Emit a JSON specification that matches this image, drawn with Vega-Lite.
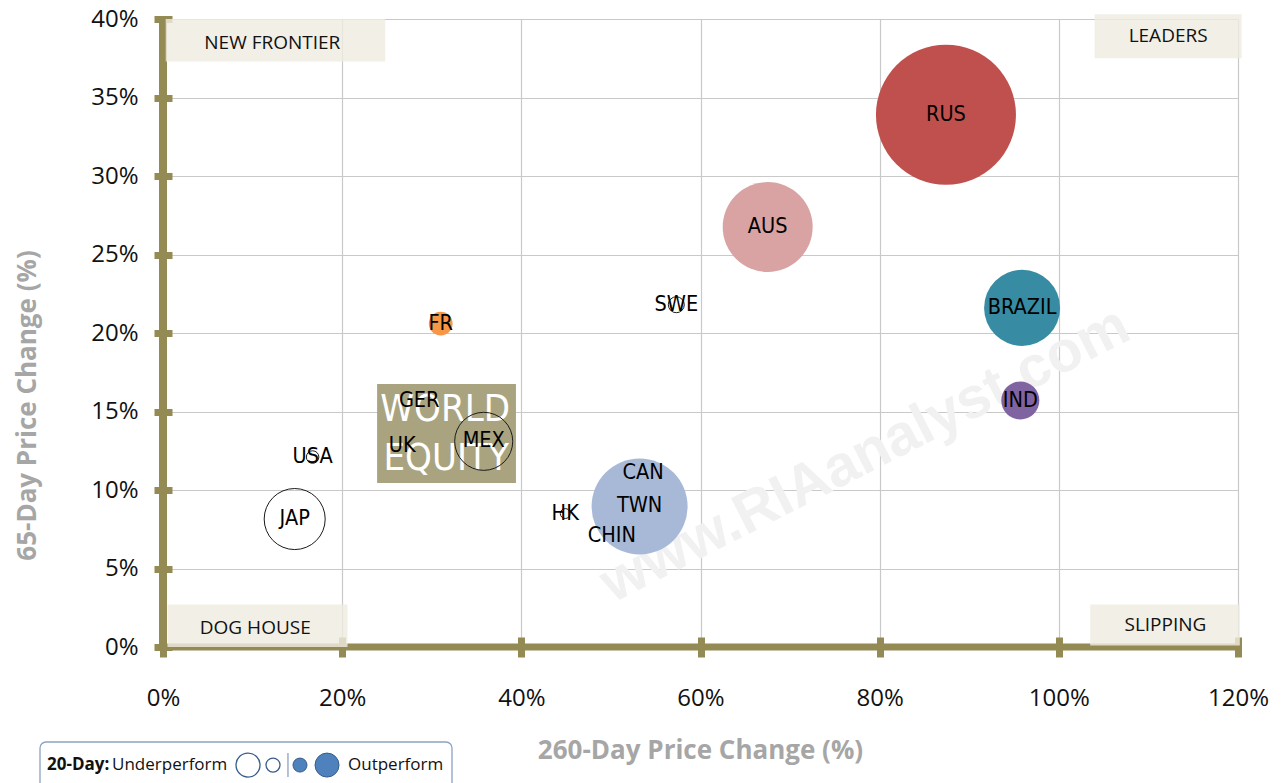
{
  "$schema": "https://vega.github.io/schema/vega-lite/v6.json",
  "width": 1075,
  "height": 628,
  "autosize": {"type": "none"},
  "padding": {"left": 163, "top": 19, "right": 47, "bottom": 136},
  "background": "white",
  "config": {"view": {"stroke": null}, "font": "Open Sans"},
  "data": {"values": [{}]},
  "datasets": {
    "countries": [
      {"name": "RUS", "chg260": 87.4, "chg65": 33.9, "mag20": 100, "perf": "out"},
      {"name": "AUS", "chg260": 67.5, "chg65": 26.75, "mag20": 41.3, "perf": "out"},
      {"name": "BRAZIL", "chg260": 95.9, "chg65": 21.6, "mag20": 29.5, "perf": "out"},
      {"name": "IND", "chg260": 95.7, "chg65": 15.7, "mag20": 7.4, "perf": "out"},
      {"name": "TWN", "chg260": 53.2, "chg65": 8.95, "mag20": 47, "perf": "out"},
      {"name": "CAN", "chg260": 53.6, "chg65": 11.1, "mag20": 0, "perf": "out"},
      {"name": "CHIN", "chg260": 50.1, "chg65": 7.1, "mag20": 0, "perf": "out"},
      {"name": "FR", "chg260": 31.0, "chg65": 20.6, "mag20": 2.9, "perf": "out"},
      {"name": "GER", "chg260": 28.6, "chg65": 15.7, "mag20": 0, "perf": "out"},
      {"name": "UK", "chg260": 26.7, "chg65": 12.8, "mag20": 0, "perf": "out"},
      {"name": "SWE", "chg260": 57.3, "chg65": 21.8, "mag20": 1.3, "perf": "under"},
      {"name": "HK", "chg260": 44.9, "chg65": 8.5, "mag20": 0.5, "perf": "under"},
      {"name": "USA", "chg260": 16.7, "chg65": 12.1, "mag20": 0.8, "perf": "under"},
      {"name": "JAP", "chg260": 14.7, "chg65": 8.15, "mag20": 19, "perf": "under"},
      {"name": "MEX", "chg260": 35.8, "chg65": 13.1, "mag20": 17.2, "perf": "under"}
    ],
    "quadrants": [
      {"q": "NEW FRONTIER", "x1": 0.3, "x2": 24.8, "y1": 37.3, "y2": 40.0, "cx": 12.2, "cy": 38.5},
      {"q": "LEADERS", "x1": 104.0, "x2": 120.4, "y1": 37.5, "y2": 40.3, "cx": 112.2, "cy": 38.9},
      {"q": "DOG HOUSE", "x1": 0.5, "x2": 20.6, "y1": 0.0, "y2": 2.7, "cx": 10.3, "cy": 1.2},
      {"q": "SLIPPING", "x1": 103.5, "x2": 120.2, "y1": 0.1, "y2": 2.7, "cx": 111.9, "cy": 1.4}
    ]
  },
  "layer": [
    {
      "data": {"name": "countries"},
      "transform": [{"filter": "datum.perf === 'none'"}],
      "mark": {"type": "circle", "opacity": 0},
      "encoding": {
        "x": {
          "field": "chg260", "type": "quantitative",
          "scale": {"domain": [0, 120], "nice": false},
          "axis": {
            "values": [0, 20, 40, 60, 80, 100, 120],
            "labelExpr": "datum.value + '%'",
            "labelFlush": false,
            "domain": false,
            "offset": -10,
            "tickSize": 20,
            "tickWidth": 7,
            "tickColor": "#948A54",
            "labelPadding": 29,
            "labelFont": "Open Sans",
            "labelFontSize": 24,
            "labelColor": "#111111",
            "grid": true,
            "gridColor": "#C9C9C9",
            "gridWidth": 1.2,
            "title": "260-Day Price Change (%)",
            "titleFont": "Open Sans",
            "titleFontSize": 26,
            "titleFontWeight": "bold",
            "titleColor": "#A6A6A6",
            "titleX": 537,
            "titleY": 113,
            "titleBaseline": "middle",
            "titleAnchor": "middle"
          }
        },
        "y": {
          "field": "chg65", "type": "quantitative",
          "scale": {"domain": [0, 40], "nice": false},
          "axis": {
            "values": [0, 5, 10, 15, 20, 25, 30, 35, 40],
            "labelExpr": "datum.value + '%'",
            "labelFlush": false,
            "domain": false,
            "offset": -9,
            "tickSize": 18,
            "tickWidth": 7,
            "tickColor": "#948A54",
            "labelPadding": 16,
            "labelFont": "Open Sans",
            "labelFontSize": 24,
            "labelColor": "#111111",
            "grid": true,
            "gridColor": "#C9C9C9",
            "gridWidth": 1.2,
            "title": "65-Day Price Change (%)",
            "titleFont": "Open Sans",
            "titleFontSize": 26,
            "titleFontWeight": "bold",
            "titleColor": "#A6A6A6",
            "titleX": -145,
            "titleY": 386,
            "titleAngle": 270,
            "titleBaseline": "middle",
            "titleAnchor": "middle"
          }
        }
      }
    },
    {
      "mark": {"type": "text", "font": "Liberation Sans", "fontWeight": "bold", "fontSize": 58, "angle": -27, "fill": "#F1F1F1"},
      "encoding": {
        "x": {"datum": 78.4, "type": "quantitative"},
        "y": {"datum": 12.2, "type": "quantitative"},
        "text": {"value": "www.RIAanalyst.com"}
      }
    },
    {
      "mark": {"type": "rule", "stroke": "#948A54", "strokeWidth": 8},
      "encoding": {
        "x": {"datum": 0, "type": "quantitative"},
        "y": {"datum": 0, "type": "quantitative"},
        "y2": {"datum": 40}
      }
    },
    {
      "mark": {"type": "rule", "stroke": "#948A54", "strokeWidth": 7, "strokeCap": "square"},
      "encoding": {
        "x": {"datum": 0, "type": "quantitative"},
        "x2": {"datum": 120},
        "y": {"datum": 0, "type": "quantitative"}
      }
    },
    {
      "data": {"name": "quadrants"},
      "mark": {"type": "rect", "fill": "#EEECE1", "opacity": 0.82},
      "encoding": {
        "x": {"field": "x1", "type": "quantitative"},
        "x2": {"field": "x2"},
        "y": {"field": "y1", "type": "quantitative"},
        "y2": {"field": "y2"}
      }
    },
    {
      "data": {"name": "quadrants"},
      "mark": {"type": "text", "font": "Open Sans", "fontSize": 19, "fill": "#111111", "baseline": "middle"},
      "encoding": {
        "x": {"field": "cx", "type": "quantitative"},
        "y": {"field": "cy", "type": "quantitative"},
        "text": {"field": "q"}
      }
    },
    {
      "mark": {"type": "rect", "fill": "#A9A47F"},
      "encoding": {
        "x": {"datum": 23.9, "type": "quantitative"},
        "x2": {"datum": 39.4},
        "y": {"datum": 10.45, "type": "quantitative"},
        "y2": {"datum": 16.75}
      }
    },
    {
      "mark": {"type": "text", "font": "DejaVu Sans Condensed, Liberation Sans", "fontSize": 38, "fill": "white", "baseline": "middle"},
      "encoding": {
        "x": {"datum": 31.5, "type": "quantitative"},
        "y": {"datum": 15.1, "type": "quantitative"},
        "text": {"value": "WORLD"}
      }
    },
    {
      "mark": {"type": "text", "font": "DejaVu Sans Condensed, Liberation Sans", "fontSize": 38, "fill": "white", "baseline": "middle"},
      "encoding": {
        "x": {"datum": 31.6, "type": "quantitative"},
        "y": {"datum": 12.0, "type": "quantitative"},
        "text": {"value": "EQUITY"}
      }
    },
    {
      "data": {"name": "countries"},
      "transform": [{"filter": "datum.perf === 'out'"}],
      "mark": {"type": "circle", "opacity": 1},
      "encoding": {
        "x": {"field": "chg260", "type": "quantitative"},
        "y": {"field": "chg65", "type": "quantitative"},
        "size": {"field": "mag20", "type": "quantitative", "scale": {"type": "linear", "domain": [0, 100], "range": [0, 19600]}, "legend": null},
        "color": {
          "field": "name", "type": "nominal", "legend": null,
          "scale": {
            "domain": ["RUS", "AUS", "BRAZIL", "IND", "TWN", "CAN", "CHIN", "FR", "GER", "UK"],
            "range": ["#C0504D", "#D9A3A3", "#378CA3", "#8064A2", "#A8B9D8", "#A8B9D8", "#A8B9D8", "#F79646", "#A9A47F", "#A9A47F"]
          }
        }
      }
    },
    {
      "data": {"name": "countries"},
      "transform": [{"filter": "datum.perf === 'under'"}],
      "mark": {"type": "point", "shape": "circle", "filled": false, "stroke": "#1A1A1A", "strokeWidth": 1, "opacity": 1},
      "encoding": {
        "x": {"field": "chg260", "type": "quantitative"},
        "y": {"field": "chg65", "type": "quantitative"},
        "size": {"field": "mag20", "type": "quantitative", "scale": {"type": "linear", "domain": [0, 100], "range": [0, 19600]}, "legend": null}
      }
    },
    {
      "data": {"name": "countries"},
      "mark": {"type": "text", "font": "DejaVu Sans Condensed, Liberation Sans", "fontSize": 21.5, "fill": "#000000", "baseline": "middle", "align": "center"},
      "encoding": {
        "x": {"field": "chg260", "type": "quantitative"},
        "y": {"field": "chg65", "type": "quantitative"},
        "text": {"field": "name"}
      }
    },
    {
      "mark": {"type": "rect", "fill": "white", "stroke": "#8DA2C4", "strokeWidth": 1.3, "cornerRadius": 6},
      "encoding": {
        "x": {"datum": -13.73, "type": "quantitative"},
        "x2": {"datum": 32.26},
        "y": {"datum": -6.05, "type": "quantitative"},
        "y2": {"datum": -9.6}
      }
    },
    {
      "mark": {"type": "text", "font": "Open Sans", "fontWeight": "bold", "fontSize": 17, "fill": "#111111", "align": "left", "baseline": "middle"},
      "encoding": {
        "x": {"datum": -12.95, "type": "quantitative"},
        "y": {"datum": -7.52, "type": "quantitative"},
        "text": {"value": "20-Day:"}
      }
    },
    {
      "mark": {"type": "text", "font": "Open Sans", "fontSize": 17, "fill": "#111111", "align": "left", "baseline": "middle"},
      "encoding": {
        "x": {"datum": -5.69, "type": "quantitative"},
        "y": {"datum": -7.52, "type": "quantitative"},
        "text": {"value": "Underperform"}
      }
    },
    {
      "mark": {"type": "text", "font": "Open Sans", "fontSize": 17, "fill": "#111111", "align": "left", "baseline": "middle"},
      "encoding": {
        "x": {"datum": 20.65, "type": "quantitative"},
        "y": {"datum": -7.52, "type": "quantitative"},
        "text": {"value": "Outperform"}
      }
    },
    {
      "mark": {"type": "point", "shape": "circle", "filled": false, "stroke": "#385D8A", "strokeWidth": 1.3, "size": 576, "opacity": 1},
      "encoding": {
        "x": {"datum": 9.49, "type": "quantitative"},
        "y": {"datum": -7.52, "type": "quantitative"}
      }
    },
    {
      "mark": {"type": "point", "shape": "circle", "filled": false, "stroke": "#385D8A", "strokeWidth": 1.3, "size": 196, "opacity": 1},
      "encoding": {
        "x": {"datum": 12.28, "type": "quantitative"},
        "y": {"datum": -7.52, "type": "quantitative"}
      }
    },
    {
      "mark": {"type": "rule", "stroke": "#8DA2C4", "strokeWidth": 1.3},
      "encoding": {
        "x": {"datum": 13.95, "type": "quantitative"},
        "y": {"datum": -6.75, "type": "quantitative"},
        "y2": {"datum": -8.28}
      }
    },
    {
      "mark": {"type": "point", "shape": "circle", "filled": true, "fill": "#4F81BD", "stroke": "#385D8A", "strokeWidth": 1, "size": 196, "opacity": 1},
      "encoding": {
        "x": {"datum": 15.29, "type": "quantitative"},
        "y": {"datum": -7.52, "type": "quantitative"}
      }
    },
    {
      "mark": {"type": "point", "shape": "circle", "filled": true, "fill": "#4F81BD", "stroke": "#385D8A", "strokeWidth": 1, "size": 576, "opacity": 1},
      "encoding": {
        "x": {"datum": 18.31, "type": "quantitative"},
        "y": {"datum": -7.52, "type": "quantitative"}
      }
    }
  ]
}
